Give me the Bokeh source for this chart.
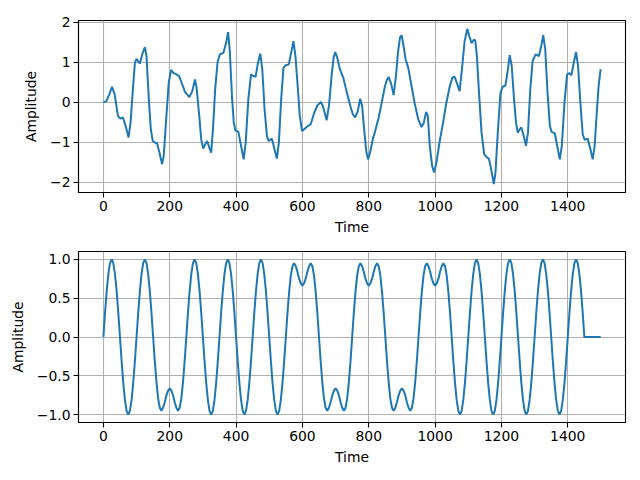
from bokeh.plotting import figure
from bokeh.layouts import column
from bokeh.models import Range1d, FixedTicker, CustomJSTickFormatter
from bokeh.embed import file_html
from bokeh.resources import INLINE

# ---- top panel: noisy signal ----
time_top = [0, 9, 18, 26, 34, 44, 51, 59, 67, 76, 82, 89, 95, 100, 105, 110, 117, 125, 130, 137,
            143, 149, 156, 162, 169, 177, 182, 190, 197, 204, 211, 220, 228, 236, 246, 259, 268, 276,
            281, 289, 295, 301, 307, 313, 319, 325, 331, 337, 344, 351, 362, 370, 376,
            381, 388, 393, 398, 407, 415, 423, 429, 437, 445, 452, 459, 466, 473, 479, 486, 493, 498,
            508, 516, 523, 529, 536, 543, 550, 559, 566, 573, 579, 585, 592, 599, 607, 617, 625, 635,
            645, 656, 663, 673, 680, 688, 694, 699, 705, 713, 723, 733, 744, 752, 759, 767, 774,
            780, 787, 793, 798, 805, 812, 820, 830, 840, 848, 855, 860, 868, 875, 882, 888, 894, 899,
            905, 911, 919, 929, 939, 949, 959, 966, 973, 978, 984, 991, 997, 1004, 1014, 1024, 1034,
            1044, 1052, 1059, 1067, 1074, 1081, 1089, 1097, 1103, 1110, 1116, 1121, 1126, 1133, 1140,
            1148, 1156,
            1162, 1168, 1177, 1182, 1189, 1197, 1204, 1212, 1218, 1225, 1231, 1238, 1244, 1249, 1255,
            1260, 1267, 1274, 1280, 1287, 1294, 1303, 1313, 1320, 1326, 1332, 1339, 1346, 1351, 1361,
            1368, 1376, 1382, 1390, 1398, 1405, 1411, 1418, 1425, 1431, 1438, 1445, 1451, 1460, 1467,
            1475, 1481, 1488, 1493, 1499]
amp_top = [0.0, 0.03, 0.2, 0.39, 0.2, -0.34, -0.41, -0.38, -0.59, -0.88, -0.5, 0.33, 0.99, 1.09, 1.03,
           0.97, 1.2, 1.38, 1.16, 0.08, -0.68, -0.97, -1.01, -1.03, -1.26, -1.55, -1.34, -0.34, 0.49,
           0.81, 0.74, 0.7, 0.66, 0.49, 0.26, 0.13, 0.28, 0.57, 0.37, -0.34, -0.93, -1.16, -1.05, -0.97,
           -1.13, -1.26, -0.59, 0.33, 0.99, 1.2, 1.24, 1.49, 1.76,
           1.3, 0.1, -0.5, -0.7, -0.74, -1.09, -1.43, -1.01, 0.08, 0.7, 0.66, 0.64, 0.99, 1.22, 0.83,
           -0.18, -0.84, -0.97, -0.91, -1.18, -1.41, -1.01, 0.08, 0.87, 0.93, 0.95, 1.24, 1.53, 1.16,
           0.49, -0.34, -0.72, -0.66, -0.59, -0.55, -0.28, -0.08, 0.01, -0.13, -0.45, -0.09, 0.66,
           1.12, 1.26, 1.12, 0.83, 0.62, 0.28, -0.08, -0.3, -0.38, -0.22, 0.09,
           -0.09, -0.76, -1.26, -1.43, -1.22, -0.93, -0.70, -0.38, 0.03, 0.37, 0.57, 0.63, 0.45, 0.18,
           0.66, 1.24, 1.62, 1.68, 1.41, 1.08, 0.87, 0.41, -0.05, -0.42, -0.62, -0.51, -0.24, -0.34,
           -1.09, -1.59, -1.76, -1.51, -0.97, -0.51, -0.01, 0.39, 0.62, 0.64, 0.45, 0.28, 0.83, 1.53,
           1.84, 1.66, 1.48, 1.56, 1.56, 1.16, 0.16, -0.76, -1.3, -1.38,
           -1.41, -1.63, -2.05, -1.76, -0.76, 0.23, 0.39, 0.42, 0.74, 1.18, 0.91, 0.08, -0.51, -0.76,
           -0.68, -0.63, -0.84, -1.09, -0.76, 0.33, 1.03, 1.2, 1.16, 1.41, 1.68, 1.33, 0.24, -0.59,
           -0.74, -0.78, -1.09, -1.43, -1.09, -0.01, 0.70, 0.73, 0.68, 0.99, 1.26, 0.91, -0.01, -0.8,
           -0.94, -0.91, -1.13, -1.43, -1.09, -0.18, 0.41, 0.83]

# ---- bottom panel: clean signal built from lobe shapes ----
# single lobe (50 time units), values every 5 units
lobe_single = [0.0, 0.31, 0.59, 0.81, 0.95, 1.0, 0.95, 0.81, 0.59, 0.31]
# double-humped lobe (100 time units), values every 5 units
lobe_double = [0.0, 0.31, 0.58, 0.79, 0.91, 0.95, 0.91, 0.84, 0.75, 0.69, 0.66,
               0.69, 0.75, 0.84, 0.91, 0.95, 0.91, 0.79, 0.58, 0.31]
lobe_kinds = ["S", "S", "S", "D", "S", "S", "S", "S", "S", "S", "D", "D", "D", "D", "D",
              "S", "S", "S", "S", "S", "S", "S", "S"]
lobe_signs = [1, -1, 1, -1, 1, -1, 1, -1, 1, -1, 1, -1, 1, -1, 1, -1, 1, -1, 1, -1, 1, -1, 1]
tail_end = 1499
step = 5

time_bot, amp_bot = [], []
t0 = 0
for kind, sign in zip(lobe_kinds, lobe_signs):
    shape = lobe_single if kind == "S" else lobe_double
    for i, v in enumerate(shape):
        time_bot.append(t0 + i * step)
        amp_bot.append(sign * v)
    t0 += len(shape) * step
time_bot += [t0, tail_end]
amp_bot += [0.0, 0.0]

x_ticks = [0, 200, 400, 600, 800, 1000, 1200, 1400]
y_ticks_top = [-2, -1, 0, 1, 2]
y_ticks_bot = [-1.0, -0.5, 0.0, 0.5, 1.0]

FONT = "DejaVu Sans"
BLUE = "#1f77b4"


def style(p, yticks, ydigits):
    p.xaxis.ticker = FixedTicker(ticks=x_ticks)
    p.yaxis.ticker = FixedTicker(ticks=yticks)
    p.xaxis.formatter = CustomJSTickFormatter(code="return tick.toFixed(0);")
    p.yaxis.formatter = CustomJSTickFormatter(
        code="return (tick < 0 ? '\\u2212' : '') + Math.abs(tick).toFixed(%d);" % ydigits)
    for ax in (p.xaxis[0], p.yaxis[0]):
        ax.major_label_text_font = FONT
        ax.major_label_text_font_size = "13.9px"
        ax.major_label_text_color = "black"
        ax.axis_label_text_font = FONT
        ax.axis_label_text_font_size = "13.9px"
        ax.axis_label_text_font_style = "normal"
        ax.axis_label_text_color = "black"
        ax.minor_tick_line_color = None
        ax.major_tick_out = 5
        ax.major_tick_in = 0
        ax.major_tick_line_color = "black"
        ax.major_tick_line_width = 1.1
        ax.axis_line_color = "black"
        ax.axis_line_width = 1.1
        ax.major_label_standoff = 3
    p.xaxis.axis_label = "Time"
    p.yaxis.axis_label = "Amplitude"
    p.xaxis.axis_label_standoff = 5
    p.yaxis.axis_label_standoff = 8
    p.grid.grid_line_color = "#b0b0b0"
    p.grid.grid_line_width = 1.1
    p.outline_line_color = "black"
    p.outline_line_width = 1.1
    p.outline_line_alpha = 1.0
    p.background_fill_color = "white"
    p.border_fill_color = "white"


p1 = figure(width=640, height=240, output_backend="svg", toolbar_location=None,
            x_range=Range1d(-75, 1574), y_range=Range1d(-2.26, 2.05),
            min_border_left=78, min_border_right=15, min_border_top=20, min_border_bottom=48)
p1.line(time_top, amp_top, line_color=BLUE, line_width=2.0)
style(p1, y_ticks_top, 0)

p2 = figure(width=640, height=240, output_backend="svg", toolbar_location=None,
            x_range=Range1d(-75, 1574), y_range=Range1d(-1.1, 1.1),
            min_border_left=78, min_border_right=15, min_border_top=11, min_border_bottom=58)
p2.line(time_bot, amp_bot, line_color=BLUE, line_width=2.0)
style(p2, y_ticks_bot, 1)

layout = column(p1, p2, spacing=0)
open("out.html", "w").write(file_html(layout, INLINE))
